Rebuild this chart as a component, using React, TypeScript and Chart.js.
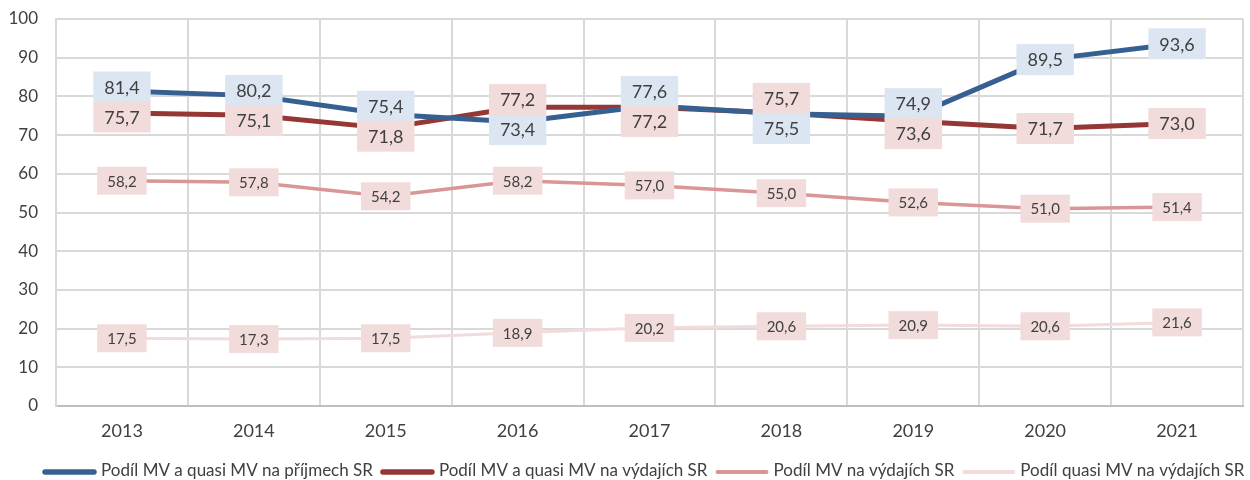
import React, { useEffect, useRef } from "react";
import { Chart, registerables } from "chart.js";

Chart.register(...registerables);

const years = ["2013", "2014", "2015", "2016", "2017", "2018", "2019", "2020", "2021"];
const seriesNames = [
  "Podíl MV a quasi MV na příjmech SR",
  "Podíl MV a quasi MV na výdajích SR",
  "Podíl MV na výdajích SR",
  "Podíl quasi MV na výdajích SR",
];
const prijmy = [81.4, 80.2, 75.4, 73.4, 77.6, 75.5, 74.9, 89.5, 93.6];
const vydaje = [75.7, 75.1, 71.8, 77.2, 77.2, 75.7, 73.6, 71.7, 73.0];
const mvVydaje = [58.2, 57.8, 54.2, 58.2, 57.0, 55.0, 52.6, 51.0, 51.4];
const quasiVydaje = [17.5, 17.3, 17.5, 18.9, 20.2, 20.6, 20.9, 20.6, 21.6];
const yTicks = [0, 10, 20, 30, 40, 50, 60, 70, 80, 90, 100];

const FONT = "Lato, 'Open Sans', sans-serif";
const LINE_COLORS = ["#376092", "#953735", "#d99694", "#f2dcdb"];
const LINE_WIDTHS = [5, 5, 3.5, 3];
const LEGEND_WIDTHS = [5.5, 5.5, 4, 4];
const LABEL_BG = ["#dce6f2", "#f2dcdb", "#f2dcdb", "#f2dcdb"];
const LABEL_FONT = [18, 18, 15, 15];
const LABEL_H = [31, 31, 28, 28];
const LABEL_PADX = [11, 11, 10, 10];

const fmt = (v: number) => v.toFixed(1).replace(".", ",");

const labelPlugin = {
  id: "boxLabels",
  afterDatasetsDraw(chart: any) {
    const ctx = chart.ctx;
    const m0 = chart.getDatasetMeta(0).data;
    const m1 = chart.getDatasetMeta(1).data;
    const SEP = 30;
    ctx.save();
    chart.data.datasets.forEach((ds: any, di: number) => {
      const meta = chart.getDatasetMeta(di);
      meta.data.forEach((pt: any, j: number) => {
        let cy = pt.y;
        if (di < 2) {
          const yb = m0[j].y;
          const yr = m1[j].y;
          if (Math.abs(yb - yr) < SEP) {
            const mid = (yb + yr) / 2;
            const blueUp = yb <= yr;
            if (di === 0) cy = blueUp ? mid - SEP / 2 : mid + SEP / 2;
            else cy = blueUp ? mid + SEP / 2 : mid - SEP / 2;
          }
        }
        const text = fmt(ds.data[j]);
        ctx.font = `${LABEL_FONT[di]}px ${FONT}`;
        const tw = ctx.measureText(text).width;
        const w = tw + LABEL_PADX[di] * 2;
        const h = LABEL_H[di];
        ctx.fillStyle = LABEL_BG[di];
        ctx.fillRect(pt.x - w / 2, cy - h / 2, w, h);
        ctx.fillStyle = "#404040";
        ctx.textAlign = "center";
        ctx.textBaseline = "middle";
        ctx.fillText(text, pt.x, cy + 1);
      });
    });
    ctx.restore();
  },
};

const legendPlugin = {
  id: "lineLegend",
  afterDraw(chart: any) {
    const ctx = chart.ctx;
    ctx.save();
    ctx.font = `17px ${FONT}`;
    ctx.textAlign = "left";
    ctx.textBaseline = "middle";
    const y = chart.height - 8;
    let x = 42;
    seriesNames.forEach((name, i) => {
      ctx.strokeStyle = LINE_COLORS[i];
      ctx.lineWidth = LEGEND_WIDTHS[i];
      ctx.lineCap = "round";
      ctx.beginPath();
      ctx.moveTo(x + 3, y);
      ctx.lineTo(x + 52, y);
      ctx.stroke();
      x += 59;
      ctx.fillStyle = "#404040";
      ctx.fillText(name, x, y - 1);
      x += ctx.measureText(name).width + 7;
    });
    ctx.restore();
  },
};

export default function App() {
  const ref = useRef<HTMLCanvasElement | null>(null);
  useEffect(() => {
    document.body.style.margin = "0";
    const data = [prijmy, vydaje, mvVydaje, quasiVydaje];
    const chart = new Chart(ref.current as HTMLCanvasElement, {
      type: "line",
      data: {
        labels: years,
        datasets: data.map((d, i) => ({
          label: seriesNames[i],
          data: d,
          borderColor: LINE_COLORS[i],
          backgroundColor: LINE_COLORS[i],
          borderWidth: LINE_WIDTHS[i],
          borderCapStyle: "round",
          borderJoinStyle: "round",
          pointRadius: 0,
          pointHoverRadius: 0,
          tension: 0,
        })),
      },
      options: {
        responsive: false,
        animation: false,
        layout: { padding: { top: 19, right: 7, left: 0, bottom: 30 } },
        plugins: {
          tooltip: { enabled: false },
          legend: { display: false },
        },
        scales: {
          x: {
            offset: true,
            grid: { offset: true, color: "#d9d9d9", lineWidth: 2, drawTicks: false },
            border: { color: "#bfbfbf", width: 2 },
            ticks: { color: "#404040", font: { family: FONT, size: 18 }, padding: 14 },
            afterFit: (axis: any) => {
              axis.height = 44;
            },
          },
          y: {
            min: 0,
            max: 100,
            afterBuildTicks: (axis: any) => {
              axis.ticks = yTicks.map((v) => ({ value: v }));
            },
            afterFit: (axis: any) => {
              axis.width = 56;
              axis.paddingTop = 0;
              axis.paddingBottom = 0;
            },
            grid: { color: "#d9d9d9", lineWidth: 2, drawTicks: false },
            border: { color: "#d9d9d9", width: 2 },
            ticks: { color: "#404040", font: { family: FONT, size: 17 }, padding: 18 },
          },
        },
      },
      plugins: [labelPlugin, legendPlugin],
    } as any);
    return () => chart.destroy();
  }, []);
  return (
    <div style={{ width: 1250, height: 480 }}>
      <canvas ref={ref} width={1250} height={480} />
    </div>
  );
}
